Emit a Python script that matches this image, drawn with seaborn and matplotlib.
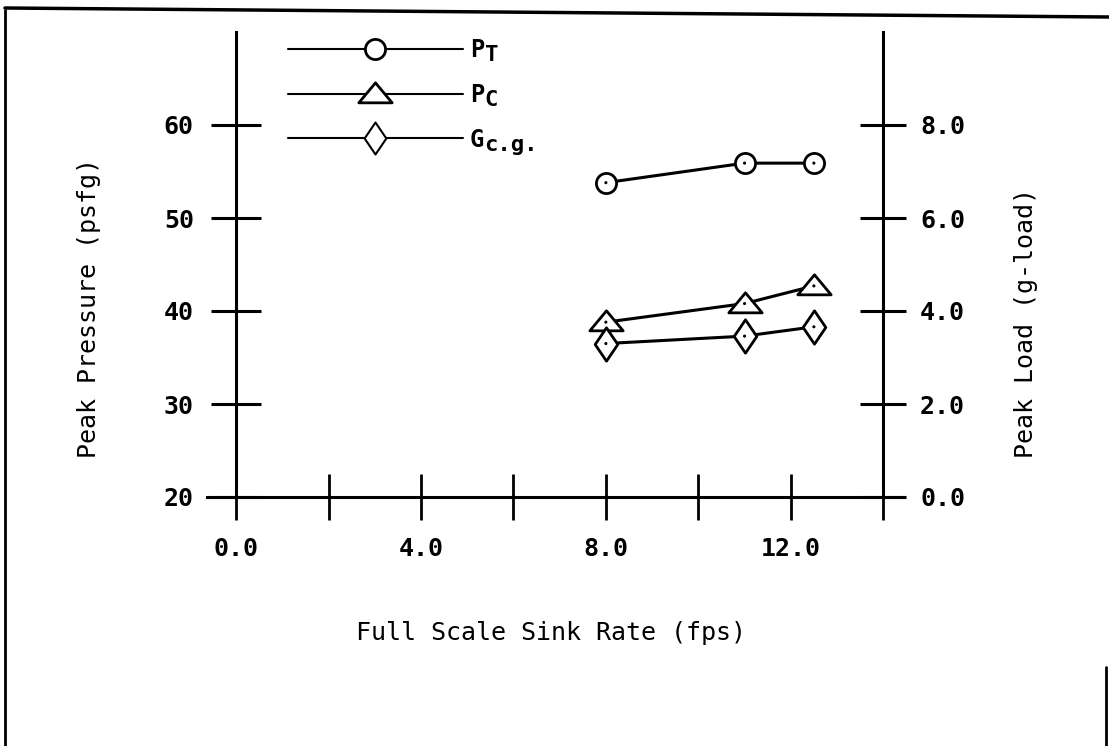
import matplotlib
matplotlib.use("Agg")
import matplotlib.pyplot as plt
import seaborn as sns
import pandas as pd
from matplotlib.lines import Line2D
from matplotlib.path import Path
from matplotlib.transforms import IdentityTransform

# ---- data ----
sink_rate = [8.0, 11.0, 12.5]
p_t = [53.8, 55.9, 55.9]        # psfg (left axis)
p_c = [38.8, 40.8, 42.7]        # psfg (left axis)
g_cg = [3.30, 3.46, 3.66]       # g-load (right axis)

series_main = ["P", "P", "G"]
series_sub = ["T", "C", "c.g."]
x_ticks = [0, 2, 4, 6, 8, 10, 12, 14]
x_tick_labels = ["0.0", "", "4.0", "", "8.0", "", "12.0", ""]
left_ticks = [20, 30, 40, 50, 60]
left_tick_labels = ["20", "30", "40", "50", "60"]
right_ticks = [0, 2, 4, 6, 8]
right_tick_labels = ["0.0", "2.0", "4.0", "6.0", "8.0"]

sns.set_theme(style="white")
plt.rcParams["font.family"] = ["DejaVu Sans Mono", "DejaVu Sans"]
plt.rcParams["text.color"] = "black"
plt.rcParams["axes.labelcolor"] = "black"
plt.rcParams["xtick.color"] = "black"
plt.rcParams["ytick.color"] = "black"

df = pd.DataFrame({"x": sink_rate, "pt": p_t, "pc": p_c, "g": g_cg})

fig = plt.figure(figsize=(11.09, 7.46), dpi=100)
W, H = 1109, 746
ax = fig.add_axes([207 / W, (H - 497) / H, 697 / W, 465 / H])
ax2 = ax.twinx()

tri = Path([(-1, -0.5), (1, -0.5), (0, 0.7), (-1, -0.5)],
           [Path.MOVETO, Path.LINETO, Path.LINETO, Path.CLOSEPOLY])
dia = Path([(0, 1), (0.68, 0), (0, -1), (-0.68, 0), (0, 1)],
           [Path.MOVETO, Path.LINETO, Path.LINETO, Path.LINETO, Path.CLOSEPOLY])

lw = 2.2
common = dict(color="black", linewidth=lw, markerfacecolor="white",
              markeredgecolor="black", markeredgewidth=2.0)
sns.lineplot(data=df, x="x", y="pt", ax=ax, marker="o", markersize=14.5, **common)
sns.lineplot(data=df, x="x", y="pc", ax=ax, marker=tri, markersize=24, **common)
sns.lineplot(data=df, x="x", y="g", ax=ax2, marker=dia, markersize=24, **common)
for yy, a in (("pt", ax), ("pc", ax), ("g", ax2)):
    sns.scatterplot(data=df, x="x", y=yy, ax=a, s=5, color="black",
                    edgecolor="none", zorder=5)

ax.set_xlim(-0.63, 14.45)
ax.set_ylim(20, 70)
ax2.set_ylim(0, 10)

for s in ("top", "right"):
    ax.spines[s].set_visible(False)
for s in ("top", "left", "bottom"):
    ax2.spines[s].set_visible(False)
ax.spines["left"].set_position(("data", 0))
ax2.spines["right"].set_position(("data", 14))
for sp in (ax.spines["left"], ax.spines["bottom"], ax2.spines["right"]):
    sp.set_color("black")
    sp.set_linewidth(2.2)

tick_font = dict(family="DejaVu Sans Mono", weight="bold", size=18)
ax.set_xticks(x_ticks)
ax.set_xticklabels(x_tick_labels, fontdict=tick_font)
ax.set_yticks(left_ticks)
ax.set_yticklabels(left_tick_labels, fontdict=tick_font)
ax2.set_yticks(right_ticks)
ax2.set_yticklabels(right_tick_labels, fontdict=tick_font)

ax.tick_params(axis="x", direction="inout", length=33, width=2.0, pad=12,
               colors="black", bottom=True)
ax.tick_params(axis="y", direction="inout", length=36, width=2.2, pad=12.5,
               colors="black", left=True)
ax2.tick_params(axis="y", direction="inout", length=33, width=2.2, pad=10,
                colors="black", right=True)

label_font = dict(family="DejaVu Sans Mono", size=18, color="black")
ax.set_xlabel("Full Scale Sink Rate (fps)", fontdict=label_font)
ax.xaxis.set_label_coords(0.4935, -0.293)
ax.xaxis.label.set_va("center")
ax.set_ylabel("Peak Pressure (psfg)", fontdict=label_font)
ax.yaxis.set_label_coords(-0.169, 0.406)
ax.yaxis.label.set_va("center")
ax2.set_ylabel("Peak Load (g-load)", fontdict=label_font, rotation=90)
ax2.yaxis.set_label_coords(1.175, 0.3735)
ax2.yaxis.label.set_va("center")

handles = [
    Line2D([], [], color="black", linewidth=1.5, marker="o", markersize=14.5,
           markerfacecolor="white", markeredgecolor="black", markeredgewidth=2.0),
    Line2D([], [], color="black", linewidth=1.5, marker=tri, markersize=24,
           markerfacecolor="white", markeredgecolor="black", markeredgewidth=2.0),
    Line2D([], [], color="black", linewidth=1.5, marker=dia, markersize=23,
           markerfacecolor="white", markeredgecolor="black", markeredgewidth=1.5),
]
leg_font = dict(family="DejaVu Sans Mono", size=17, weight="bold")
leg = ax.legend(handles, series_main, loc="upper left",
                bbox_to_anchor=(288 / W, (H - 38) / H),
                bbox_transform=fig.transFigure, frameon=False,
                handlelength=7.4, handletextpad=0.3, labelspacing=0.88,
                borderpad=0, borderaxespad=0, numpoints=1, prop=leg_font)

# subscripts of the legend labels, nearly full size and lowered
fig.canvas.draw()
for t, sub in zip(leg.get_texts(), series_sub):
    bb = t.get_window_extent()
    fig.text(bb.x1 + 0.5, bb.y0 - 3, sub, transform=IdentityTransform(),
             family="DejaVu Sans Mono", size=16, weight="bold",
             ha="left", va="bottom", color="black")

# page frame of the scanned figure
fig.add_artist(Line2D([5 / W, 5 / W], [1 - 10 / H, 0], color="black", linewidth=2,
                      transform=fig.transFigure))
fig.add_artist(Line2D([5 / W, 1.0], [1 - 8 / H, 1 - 17 / H], color="black",
                      linewidth=2.5, transform=fig.transFigure))
fig.add_artist(Line2D([1106 / W, 1106 / W], [1 - 667 / H, 0], color="black",
                      linewidth=2, transform=fig.transFigure))

fig.savefig("out.png", dpi=100, facecolor="white")
